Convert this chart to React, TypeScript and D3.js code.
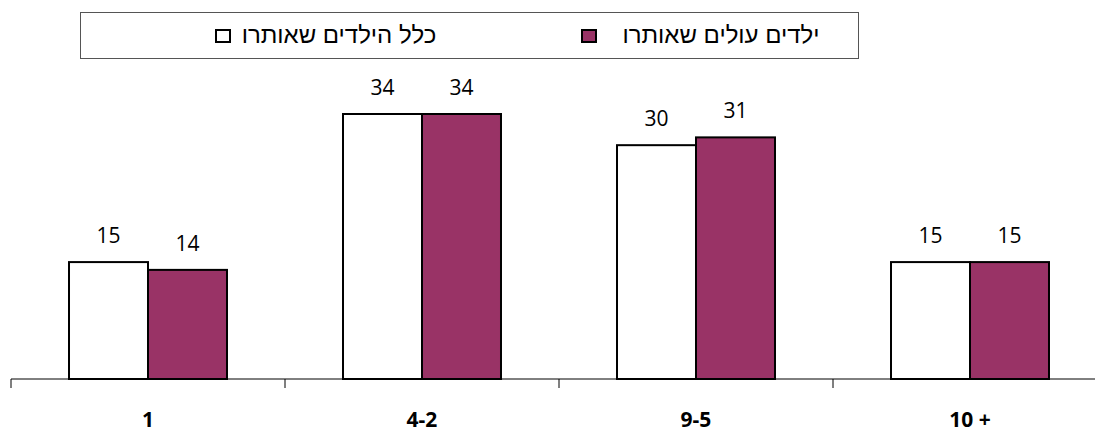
import { useEffect, useRef } from 'react';
import * as d3 from 'd3';

const categories = ['1', '4-2', '9-5', '10 +'];
const seriesNames = ['כלל הילדים שאותרו', 'ילדים עולים שאותרו'];
const allChildren = [15, 34, 30, 15];
const immigrantChildren = [14, 34, 31, 15];
const seriesColors = ['#ffffff', '#993366'];

const W = 1095;
const H = 433;

export default function App() {
  const svgRef = useRef<SVGSVGElement>(null);

  useEffect(() => {
    if (!svgRef.current) return;
    const svg = d3.select(svgRef.current);
    svg.selectAll('*').remove();

    const baseY = 379;
    const left = 11;
    const step = 274;

    // category bands
    const x = d3.scaleBand<string>()
      .domain(categories)
      .range([left, left + step * categories.length])
      .paddingInner(0.4234)
      .paddingOuter(0.2117);

    const sub = d3.scaleBand<number>()
      .domain([0, 1])
      .range([0, x.bandwidth()])
      .padding(0);

    const y = d3.scaleLinear().domain([0, 34]).range([baseY, 114]);

    const series = [allChildren, immigrantChildren];

    // bars
    series.forEach((vals, si) => {
      const g = svg.append('g');
      g.selectAll('rect')
        .data(vals)
        .join('rect')
        .attr('x', (d, i) => (x(categories[i]) ?? 0) + (sub(si) ?? 0))
        .attr('y', d => y(d))
        .attr('width', sub.bandwidth())
        .attr('height', d => baseY - y(d))
        .attr('fill', seriesColors[si])
        .attr('stroke', '#000')
        .attr('stroke-width', 2);

      g.selectAll('text')
        .data(vals)
        .join('text')
        .attr('x', (d, i) => (x(categories[i]) ?? 0) + (sub(si) ?? 0) + sub.bandwidth() / 2)
        .attr('y', d => y(d) - 19)
        .attr('text-anchor', 'middle')
        .attr('font-family', '"Open Sans", sans-serif')
        .attr('font-size', 21)
        .attr('fill', '#000')
        .text(d => d);
    });

    // axis line + ticks
    svg.append('line')
      .attr('x1', left).attr('x2', W)
      .attr('y1', baseY).attr('y2', baseY)
      .attr('stroke', '#000').attr('stroke-width', 1);

    const ticks = d3.range(categories.length + 1).map(i => left + i * step);
    svg.append('g').selectAll('line')
      .data(ticks)
      .join('line')
      .attr('x1', d => d).attr('x2', d => d)
      .attr('y1', baseY).attr('y2', baseY + 9)
      .attr('stroke', '#000').attr('stroke-width', 1);

    // category labels
    svg.append('g').selectAll('text')
      .data(categories)
      .join('text')
      .attr('x', d => (x(d) ?? 0) + x.bandwidth() / 2)
      .attr('y', 427)
      .attr('text-anchor', 'middle')
      .attr('font-family', '"Open Sans", sans-serif')
      .attr('font-weight', 'bold')
      .attr('font-size', 21)
      .attr('fill', '#000')
      .text(d => d);

    // legend
    const legend = svg.append('g');
    legend.append('rect')
      .attr('x', 80.5).attr('y', 12.5)
      .attr('width', 778).attr('height', 46)
      .attr('fill', '#fff')
      .attr('stroke', '#555').attr('stroke-width', 1);

    const items = [
      { swatchX: 216, textX: 339 },
      { swatchX: 582, textX: 721 },
    ];
    items.forEach((it, i) => {
      legend.append('rect')
        .attr('x', it.swatchX).attr('y', 30)
        .attr('width', 14).attr('height', 12)
        .attr('fill', seriesColors[i])
        .attr('stroke', '#000').attr('stroke-width', 2);
      legend.append('text')
        .attr('x', it.textX).attr('y', 43)
        .attr('text-anchor', 'middle')
        .attr('font-family', '"Liberation Sans", Arial, sans-serif')
        .attr('font-size', 24)
        .attr('fill', '#000')
        .text(seriesNames[i]);
    });
  }, []);

  return (
    <svg
      ref={svgRef}
      width={W}
      height={H}
      style={{ position: 'absolute', left: 0, top: 0, background: '#fff' }}
    />
  );
}
